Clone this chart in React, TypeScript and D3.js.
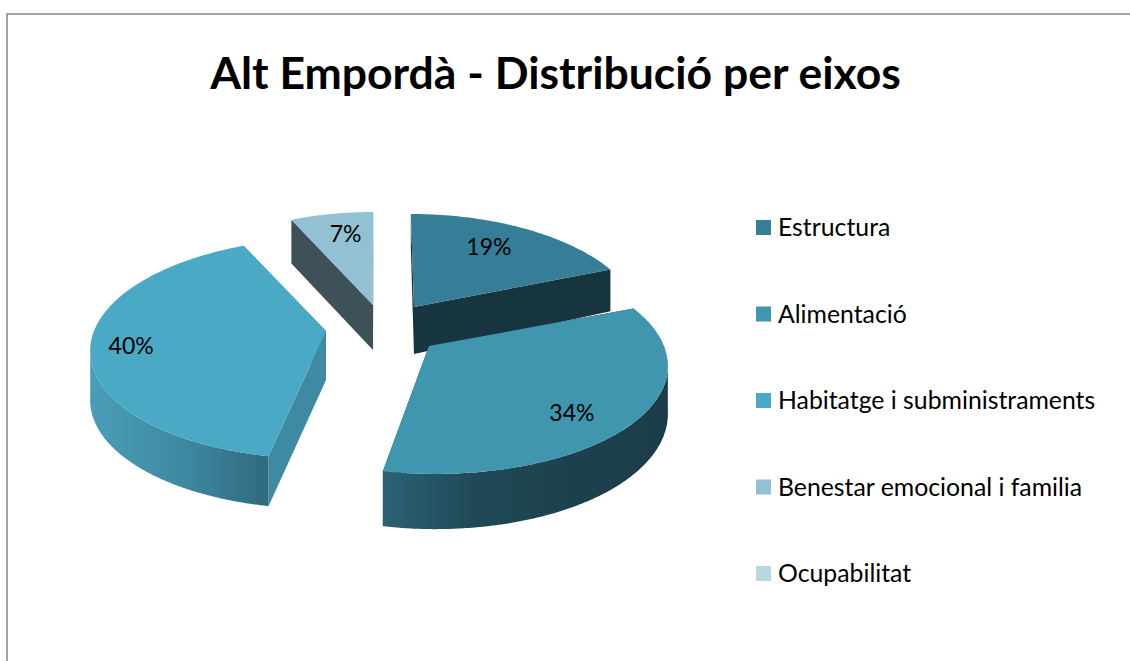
import React, { useEffect, useRef } from 'react';
import * as d3 from 'd3';

const chartTitle = 'Alt Empordà - Distribució per eixos';
const categories = ['Estructura', 'Alimentació', 'Habitatge i subministraments', 'Benestar emocional i familia', 'Ocupabilitat'];
const shares = [19, 34, 40, 7, 0];
const legendColors = ['#367E97', '#4095AF', '#4AA9C4', '#92C1D4', '#BAD6E3'];
const cutColors = ['#17353F', '#1A3C48', '#3E8AA3', '#3E5159', '#BAD6E3'];

// where each exploded slice sits and how it is drawn
const apexX = [414, 429, 326, 373, 373];
const apexY = [307, 346, 331, 305, 305];
const radiusX = [225, 235, 232, 220, 220];
const sliceDepth = [47, 46.5, 49, 45, 45];
const depthSpread = [2, 1, 0.1, 0.2, 0];
const labelAngle = [31, 136, 261, 349.4, 0];
const labelFrac = [0.73, 0.78, 0.83, 0.766, 0];
const paintOrder = [3, 0, 2, 1];

const width = 1130;
const height = 661;
const radiusY = 107.7;
const perspective = 0.158;
const vanishX = 377.5; // lines running toward the viewer spread out from here
const spread = 0.636;

type Pt = [number, number];

export default function App() {
  const svgRef = useRef<SVGSVGElement>(null);

  useEffect(() => {
    const svg = d3.select(svgRef.current);
    svg.selectAll('*').remove();
    svg.attr('width', width).attr('height', height);

    const fontFamily = 'Lato, Carlito, sans-serif';

    // side wall gradients
    const defs = svg.append('defs');
    const addGradient = (id: string, stops: [number, string][]) => {
      const g = defs.append('linearGradient').attr('id', id);
      stops.forEach(([o, c]) => g.append('stop').attr('offset', o).attr('stop-color', c));
    };
    addGradient('wall-1', [[0, '#2B6273'], [0.35, '#1F4755'], [1, '#1A3C48']]);
    addGradient('wall-2', [[0, '#4A9DB8'], [0.5, '#3F8AA3'], [1, '#2F6A7E']]);

    svg.append('rect')
      .attr('x', 7).attr('y', 14)
      .attr('width', width + 50).attr('height', height + 50)
      .attr('fill', 'white')
      .attr('stroke', '#868686')
      .attr('stroke-width', 1.5);

    svg.append('text')
      .attr('x', 555.5).attr('y', 89)
      .attr('text-anchor', 'middle')
      .attr('font-family', fontFamily)
      .attr('font-weight', 'bold')
      .attr('font-size', 44.5)
      .attr('fill', 'black')
      .text(chartTitle);

    const arcs = d3.pie<number>().sort(null).value(d => d)(shares);

    // floor = 1 puts the point on the underside of the slice
    const project = (i: number, angle: number, frac: number, floor: number): Pt => {
      const s = 1 / (1 + perspective * frac * Math.cos(angle));
      return [
        apexX[i] + radiusX[i] * frac * Math.sin(angle) * s + (apexX[i] - vanishX) * spread * (s - 1),
        apexY[i] - radiusY * frac * Math.cos(angle) * s + floor * sliceDepth[i] * (1 + depthSpread[i] * (s - 1)),
      ];
    };
    const sample = (a0: number, a1: number) => d3.range(a0, a1, 0.01).concat(a1);
    const line = d3.line<Pt>();
    const silhouette = Math.acos(-perspective);

    paintOrder.forEach(i => {
      const { startAngle, endAngle } = arcs[i];
      const cut = (a: number) => [
        project(i, a, 0, 0), project(i, a, 1, 0), project(i, a, 1, 1), project(i, a, 0, 1),
      ];
      [startAngle, endAngle].forEach(a => {
        svg.append('path')
          .attr('d', line(cut(a)) + 'Z')
          .attr('fill', cutColors[i]);
      });

      const a0 = Math.max(startAngle, silhouette);
      const a1 = Math.min(endAngle, 2 * Math.PI - silhouette);
      if (a1 > a0) {
        const angles = sample(a0, a1);
        const wall = angles.map(a => project(i, a, 1, 0))
          .concat(angles.slice().reverse().map(a => project(i, a, 1, 1)));
        svg.append('path')
          .attr('d', line(wall) + 'Z')
          .attr('fill', `url(#wall-${i})`);
      }

      const top = [project(i, startAngle, 0, 0)]
        .concat(sample(startAngle, endAngle).map(a => project(i, a, 1, 0)));
      svg.append('path')
        .attr('d', line(top) + 'Z')
        .attr('fill', legendColors[i]);
    });

    paintOrder.forEach(i => {
      const [x, y] = project(i, labelAngle[i] * Math.PI / 180, labelFrac[i], 0);
      svg.append('text')
        .attr('x', x).attr('y', y)
        .attr('text-anchor', 'middle')
        .attr('dominant-baseline', 'central')
        .attr('font-family', fontFamily)
        .attr('font-size', 23)
        .attr('fill', 'black')
        .text(`${shares[i]}%`);
    });

    // Legend
    const legendY = d3.scalePoint<string>().domain(categories).range([227.5, 573.5]);
    const legend = svg.append('g').selectAll('g')
      .data(categories)
      .enter()
      .append('g')
      .attr('transform', d => `translate(756,${legendY(d)})`);
    legend.append('rect')
      .attr('y', -7.5)
      .attr('width', 15).attr('height', 15)
      .attr('fill', (d, i) => legendColors[i]);
    legend.append('text')
      .attr('x', 22)
      .attr('y', -1)
      .attr('dominant-baseline', 'central')
      .attr('font-family', fontFamily)
      .attr('font-size', 24.8)
      .attr('fill', 'black')
      .text(d => d);
  }, []);

  return (
    <svg ref={svgRef} style={{ position: 'absolute', left: 0, top: 0, display: 'block' }}></svg>
  );
}
